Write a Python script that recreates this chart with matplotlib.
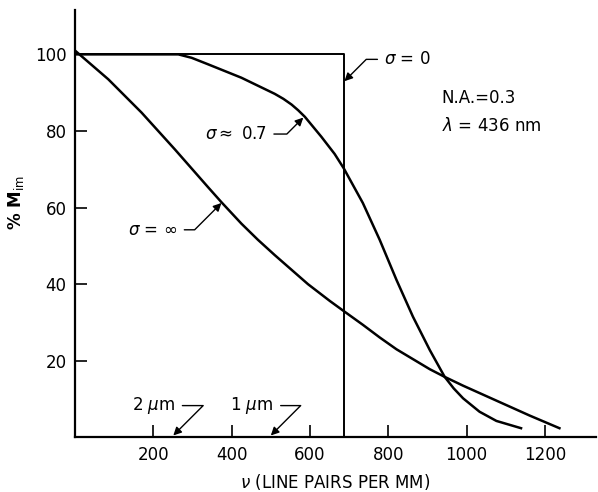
import matplotlib.pyplot as plt

# sigma = 0 (coherent) : flat at 100 up to cutoff, then drops
s0_x = [0, 688, 688]
s0_y = [100, 100, 0]

# sigma ~ 0.7 (partially coherent)
s07_x = [0, 264, 298, 340, 425, 510, 532, 553, 570, 587, 629, 663, 686, 735, 778, 821, 863,
         906, 944, 967, 991, 1033, 1076, 1139]
s07_y = [100, 100, 99.1, 97.4, 93.9, 89.7, 88.4, 86.9, 85.4, 83.7, 78.5, 74.0, 70.3, 61.2, 51.6, 41.1, 31.5,
         22.8, 15.8, 12.8, 10.2, 6.7, 4.3, 2.4]

# sigma = infinity (incoherent)
sinf_x = [0, 85, 170, 255, 340, 374, 425, 467, 510, 595, 651, 686, 735, 778, 821, 906, 944,
          991, 1076, 1161, 1237]
sinf_y = [101, 93.5, 84.8, 75.2, 65.3, 61.4, 55.8, 51.6, 47.6, 40.0, 35.6, 33.0, 29.4, 26.1, 23.0, 17.8, 15.8,
          13.5, 9.6, 5.7, 2.4]

xticks = [200, 400, 600, 800, 1000, 1200]
yticks = [20, 40, 60, 80, 100]

plt.rcParams['font.family'] = ['DejaVu Sans']

fig = plt.figure(figsize=(5.98, 4.92), dpi=100)
ax = fig.add_axes([0.1254, 0.111, 0.871, 0.868])

ax.plot(s0_x, s0_y, color='black', lw=1.4)
ax.plot(s07_x, s07_y, color='black', lw=1.8, solid_joinstyle='round')
ax.plot(sinf_x, sinf_y, color='black', lw=1.8, solid_joinstyle='round')

ax.set_xlim(0, 1330)
ax.set_ylim(0, 111.5)
ax.set_xticks(xticks)
ax.set_yticks(yticks)
ax.tick_params(direction='in', length=8.5, width=1.2, labelsize=12, pad=6)
for s in ['top', 'right']:
    ax.spines[s].set_visible(False)
for s in ['left', 'bottom']:
    ax.spines[s].set_linewidth(1.6)

ax.set_xlabel(r'$\nu$ (LINE PAIRS PER MM)', fontsize=12, labelpad=6)
ax.set_ylabel(r'% M$_{\mathrm{im}}$', fontsize=12, fontweight='bold')
ax.yaxis.set_label_coords(-0.095, 0.55)

arr = dict(arrowstyle='-|>', color='black', lw=1.0, mutation_scale=12, shrinkA=3, shrinkB=0,
           connectionstyle='angle,angleA=0,angleB=45,rad=0')

ax.annotate(r'$\sigma$ = 0', xy=(688, 93), xytext=(790, 98.7), fontsize=12,
            va='center', arrowprops=arr)
ax.annotate(r'$\sigma \approx$ 0.7', xy=(583, 83.5), xytext=(332, 79.2), fontsize=12,
            va='center', arrowprops=arr)
ax.annotate(r'$\sigma$ = $\infty$', xy=(374, 61.2), xytext=(136, 54.2), fontsize=12,
            va='center', arrowprops=arr)
ax.annotate(r'2 $\mu$m', xy=(251, 0.5), xytext=(146, 8.3), fontsize=12,
            va='center', arrowprops=arr)
ax.annotate(r'1 $\mu$m', xy=(500, 0.5), xytext=(397, 8.3), fontsize=12,
            va='center', arrowprops=arr)

ax.text(935, 88.5, 'N.A.=0.3', fontsize=12, va='center')
ax.text(938, 81.2, r'$\lambda$ = 436 nm', fontsize=12, va='center')

fig.savefig('out.png', dpi=100)
